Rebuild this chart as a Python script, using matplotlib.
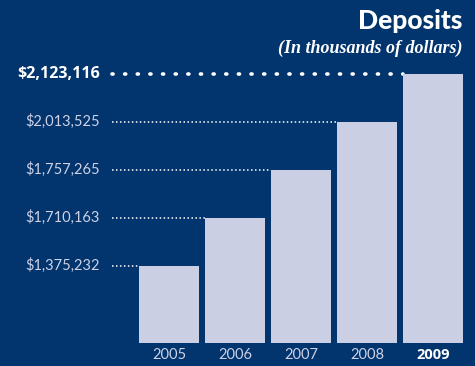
import matplotlib
matplotlib.use("Agg")
import matplotlib.pyplot as plt
import numpy as np

years = ["2005", "2006", "2007", "2008", "2009"]
deposits = [1375232, 1710163, 1757265, 2013525, 2123116]

bg = "#02346e"
bar_color = "#cbcfe3"
label_color = "#cdd2e6"

plt.rcParams['font.family'] = ['Lato', 'DejaVu Sans']

fig = plt.figure(figsize=(4.75, 3.66), dpi=100)
fig.patch.set_facecolor(bg)
ax = fig.add_axes([0, 0, 1, 1])
ax.set_facecolor(bg)
ax.axis("off")

# bars are drawn by rank (the original chart is not to scale)
rank = np.arange(len(years))
base = -1.6
x = np.arange(len(years))
width = 60 / 66
ax.bar(x, rank - base, bottom=base, width=width, color=bar_color, zorder=2)
ax.set_xlim(-169 / 66, (475 - 169) / 66)
ax.set_ylim(base - 23.5 / 48, base + (366 - 23.5) / 48)

# dotted leader lines + value labels
x_line = (112 - 169) / 66
x_lab = (100 - 169) / 66
for i, v in enumerate(deposits):
    last = i == len(deposits) - 1
    txt = "${:,}".format(v)
    if last:
        ax.plot([x_line, x[i] - width / 2], [rank[i], rank[i]], color="white",
                lw=2.6, linestyle=(0, (0.3, 3.2)), dash_capstyle="round", zorder=1)
        ax.text(x_lab, rank[i], txt, ha="right", va="center", color="white",
                fontsize=11.5, fontweight="bold", family=["Open Sans", "DejaVu Sans"])
    else:
        ax.plot([x_line, x[i] - width / 2], [rank[i], rank[i]], color="white",
                lw=1.1, linestyle=(0, (1, 1.6)), zorder=1)
        ax.text(x_lab, rank[i], txt, ha="right", va="center", color=label_color,
                fontsize=10.5)

# year labels
for i, y in enumerate(years):
    last = i == len(years) - 1
    ax.text(x[i], base - 12.5 / 48, y, ha="center", va="center",
            color="white" if last else label_color, fontsize=10.5,
            fontweight="bold" if last else "normal",
            family=["Open Sans", "DejaVu Sans"] if last else ["Lato", "DejaVu Sans"])

fig.text(462 / 475, 1 - 21 / 366, "Deposits", ha="right", va="center",
         color="white", fontsize=19, fontweight="black")
fig.text(462 / 475, 1 - 48 / 366, "(In thousands of dollars)", ha="right", va="center",
         color="white", fontsize=13, fontstyle="italic", fontweight="bold",
         family=["Liberation Serif", "DejaVu Serif"])

fig.savefig("out.png", dpi=100, facecolor=bg)
